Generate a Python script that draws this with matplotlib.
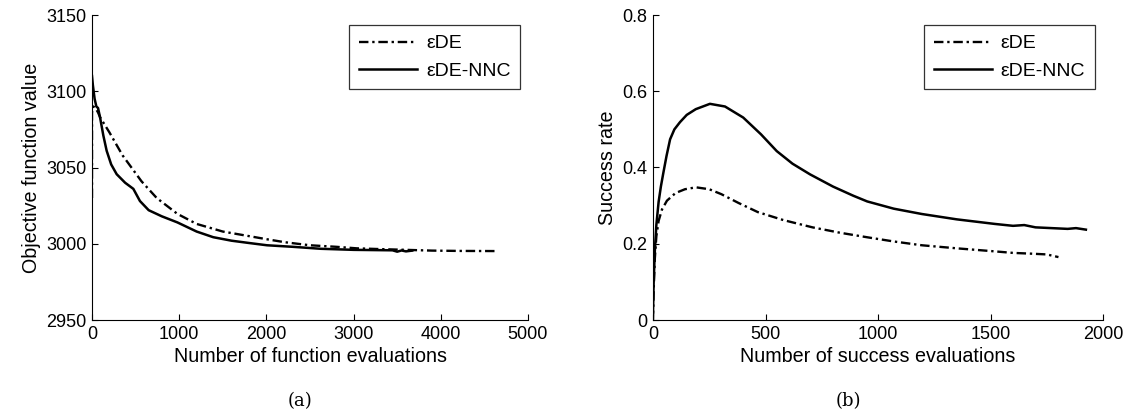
import matplotlib.pyplot as plt

plt.rcParams['font.family'] = ['Liberation Sans', 'DejaVu Sans']

# (a) objective function value vs number of function evaluations
fe_ede = [0, 0, 15, 40, 70, 92, 200, 350, 567, 742, 979, 1200, 1500, 1801, 2000,
          2212, 2500, 2800, 3035, 3300, 3600, 3900, 4200, 4638]
obj_ede = [3030, 3086, 3090, 3089, 3086, 3083, 3073, 3058, 3041, 3030, 3019.6, 3013,
           3008, 3005, 3003, 3001, 2999, 2998, 2997, 2996.5, 2996, 2995.5, 2995.3, 2995.2]
fe_nnc = [0, 10, 30, 50, 69, 92, 130, 168, 220, 283, 380, 474, 550, 650, 800, 979,
          1200, 1390, 1600, 1800, 2007, 2300, 2623, 3000, 3446, 3500, 3550, 3600, 3672]
obj_nnc = [3110, 3104, 3095, 3090, 3089, 3083, 3071, 3061, 3052, 3045.6, 3040, 3036,
           3028, 3022, 3018, 3014, 3008, 3004.3, 3002, 3000.5, 2999, 2998, 2996.7,
           2996, 2995.7, 2994.8, 2995.6, 2995, 2995.5]

# (b) success rate vs number of success evaluations
se_ede = [0, 3, 8, 15, 25, 40, 62, 100, 142, 191, 250, 304, 380, 466, 580, 709, 830,
          952, 1070, 1195, 1350, 1519, 1600, 1681, 1750, 1802]
sr_ede = [0.0, 0.08, 0.16, 0.22, 0.26, 0.29, 0.313, 0.333, 0.343, 0.348, 0.343, 0.330,
          0.307, 0.283, 0.262, 0.243, 0.229, 0.217, 0.206, 0.196, 0.188, 0.180, 0.176,
          0.174, 0.172, 0.165]
se_nnc = [0, 3, 8, 15, 25, 35, 46, 60, 76, 95, 120, 150, 190, 253, 320, 401, 480, 550,
          620, 698, 800, 890, 952, 1070, 1195, 1350, 1519, 1600, 1650, 1700, 1843, 1880,
          1924]
sr_nnc = [0.02, 0.10, 0.18, 0.25, 0.31, 0.35, 0.386, 0.43, 0.474, 0.50, 0.519, 0.538,
          0.553, 0.567, 0.560, 0.531, 0.487, 0.443, 0.410, 0.382, 0.350, 0.326, 0.311,
          0.292, 0.278, 0.264, 0.252, 0.247, 0.249, 0.243, 0.239, 0.241, 0.237]

labels = ["\u03b5DE", "\u03b5DE-NNC"]
dashdot = (0, (4, 1.6, 1, 1.6))
fs = 13
lab_fs = 14.2


def style_axes(ax):
    ax.spines['top'].set_visible(False)
    ax.spines['right'].set_visible(False)
    for s in ('left', 'bottom'):
        ax.spines[s].set_linewidth(0.8)
    ax.tick_params(direction='in', length=4, width=0.8, labelsize=fs, pad=4)
    leg = ax.legend(labels, loc='upper right', bbox_to_anchor=(0.982, 0.967),
                    borderaxespad=0, fancybox=False, fontsize=14,
                    handlelength=3.0, handletextpad=0.45, borderpad=0.5,
                    labelspacing=0.5)
    leg.get_frame().set_edgecolor('black')
    leg.get_frame().set_linewidth(0.9)


fig = plt.figure(figsize=(11.29, 4.19), dpi=100)
ax1 = fig.add_axes([92 / 1129, 99 / 419, 436 / 1129, 305 / 419])
ax2 = fig.add_axes([653 / 1129, 99 / 419, 450 / 1129, 305 / 419])

ax1.plot(fe_ede, obj_ede, color='black', lw=1.7, linestyle=dashdot)
ax1.plot(fe_nnc, obj_nnc, color='black', lw=1.8)
ax1.set_xlim(0, 5000)
ax1.set_ylim(2950, 3150)
ax1.set_xticks(range(0, 5001, 1000))
ax1.set_yticks(range(2950, 3151, 50))
ax1.set_xlabel("Number of function evaluations", fontsize=lab_fs, labelpad=3)
ax1.set_ylabel("Objective function value", fontsize=lab_fs)
style_axes(ax1)

ax2.plot(se_ede, sr_ede, color='black', lw=1.7, linestyle=dashdot)
ax2.plot(se_nnc, sr_nnc, color='black', lw=1.8)
ax2.set_xlim(0, 2000)
ax2.set_ylim(0, 0.8)
ax2.set_xticks(range(0, 2001, 500))
ax2.set_yticks([0, 0.2, 0.4, 0.6, 0.8])
ax2.set_yticklabels(["0", "0.2", "0.4", "0.6", "0.8"])
ax2.set_xlabel("Number of success evaluations", fontsize=lab_fs, labelpad=3)
ax2.set_ylabel("Success rate", fontsize=lab_fs)
style_axes(ax2)

fig.text(300 / 1129, 1 - 401 / 419, "(a)", family='DejaVu Serif', fontsize=fs,
         ha='center', va='center')
fig.text(848 / 1129, 1 - 401 / 419, "(b)", family='DejaVu Serif', fontsize=fs,
         ha='center', va='center')

fig.savefig("out.png", dpi=100)
